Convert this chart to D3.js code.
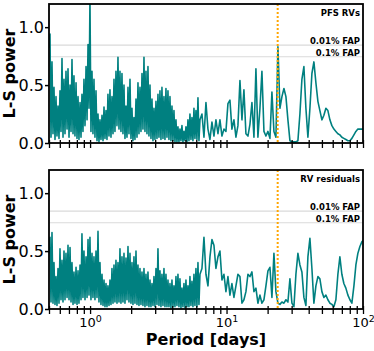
<!DOCTYPE html>
<html><head><meta charset="utf-8">
<script src="https://cdn.jsdelivr.net/npm/d3@7"></script>
<style>body{margin:0;background:#fff}svg{display:block}text{font-family:"DejaVu Sans",sans-serif}</style>
</head><body><svg id="c" width="374" height="351"></svg>
<script>
// Shared period grid [days]
const periods = [
0.500,0.5085,0.5171,0.5259,0.5349,0.544,0.5533,0.5627,0.5722,0.582,
0.5919,0.6019,0.6122,0.6226,0.6332,0.644,0.655,0.666,0.678,0.689,
0.701,0.713,0.725,0.737,0.750,0.762,0.775,0.789,0.802,0.816,
0.829,0.844,0.858,0.872,0.887,0.902,0.918,0.934,0.950,0.966,
0.982,0.998,1.015,1.033,1.050,1.068,1.086,1.105,1.124,1.143,
1.162,1.182,1.202,1.223,1.244,1.265,1.286,1.308,1.330,1.352,
1.376,1.399,1.423,1.447,1.472,1.497,1.522,1.548,1.575,1.601,
1.629,1.656,1.684,1.713,1.742,1.772,1.802,1.833,1.864,1.896,
1.928,1.961,1.994,2.028,2.062,2.097,2.133,2.170,2.207,2.244,
2.282,2.321,2.360,2.401,2.441,2.483,2.525,2.568,2.612,2.656,
2.701,2.748,2.794,2.842,2.890,2.939,2.989,3.040,3.092,3.144,
3.198,3.252,3.307,3.363,3.421,3.479,3.538,3.598,3.660,3.722,
3.785,3.850,3.915,3.982,4.049,4.118,4.188,4.260,4.332,4.406,
4.481,4.557,4.634,4.713,4.793,4.875,4.958,5.042,5.128,5.215,
5.304,5.394,5.486,5.579,5.674,5.771,5.869,5.969,6.070,6.174,
6.279,6.386,
6.605,6.832,7.066,7.308,7.559,7.818,8.086,8.363,8.650,8.947,
9.254,9.571,9.899,10.24,10.59,10.95,11.33,11.72,12.12,12.54,
12.97,13.41,13.87,14.35,14.84,15.35,15.88,16.42,16.98,17.57,
18.17,18.80,19.44,20.11,20.80,21.51,22.25,23.01,23.80,24.62,
25.46,26.34,27.24,28.17,29.14,30.14,31.17,32.24,33.35,34.49,
35.67,36.89,38.16,39.47,40.83,42.23,43.67,45.17,46.72,48.32,
49.98,51.69,53.47,55.30,57.20,59.16,61.19,63.29,65.46,67.7,
70.0,72.4,74.9,77.5,80.2,82.9,85.8,88.7,91.7,94.9,
98.1,100
];
// L-S power of the PFS RVs
const pfsPower = [
0.82,0.94,0.05,0.70,0.08,0.48,0.03,0.40,0.06,0.32,
0.04,0.45,0.10,0.73,0.05,0.55,0.08,0.62,0.12,0.64,
0.05,0.50,0.10,0.72,0.08,0.58,0.06,0.52,0.04,0.40,
0.03,0.35,0.05,0.42,0.10,0.55,0.15,0.66,0.20,0.85,
0.30,1.25,0.10,0.62,0.08,0.55,0.05,0.45,0.02,0.25,
0.01,0.20,0.03,0.24,0.02,0.31,0.04,0.28,0.03,0.42,
0.06,0.46,0.05,0.40,0.08,0.55,0.10,0.62,0.15,0.74,
0.12,0.62,0.10,0.60,0.08,0.50,0.04,0.32,0.05,0.48,
0.08,0.55,0.04,0.30,0.02,0.22,0.03,0.38,0.05,0.52,
0.08,0.48,0.10,0.60,0.12,0.74,0.10,0.62,0.08,0.66,
0.06,0.50,0.04,0.38,0.02,0.30,0.03,0.36,0.04,0.42,
0.05,0.45,0.03,0.48,0.04,0.40,0.03,0.47,0.05,0.45,
0.03,0.40,0.02,0.32,0.02,0.28,0.01,0.20,0.01,0.14,
0.01,0.12,0.02,0.15,0.01,0.10,0.02,0.14,0.01,0.20,
0.02,0.25,0.03,0.22,0.02,0.30,0.04,0.28,0.03,0.39,
0.02,0.20,
0.25,0.05,0.35,0.12,0.03,0.18,0.06,0.20,0.08,0.20,
0.06,0.12,0.10,0.34,0.37,0.12,0.20,0.05,0.15,0.54,
0.20,0.46,0.08,0.06,0.16,0.35,0.05,0.64,0.05,0.30,
0.62,0.10,0.06,0.10,0.04,0.44,0.10,0.05,0.83,0.30,
0.40,0.47,0.40,0.20,0.02,0.01,0.01,0.01,0.02,0.25,
0.55,0.66,0.30,0.05,0.30,0.60,0.70,0.52,0.36,0.28,
0.20,0.24,0.30,0.28,0.20,0.15,0.12,0.10,0.08,0.07,
0.05,0.04,0.03,0.02,0.02,0.04,0.07,0.10,0.12,0.12,
0.12,0.12
];
// L-S power of the RV residuals
const residPower = [
0.48,0.62,0.06,0.66,0.05,0.40,0.04,0.28,0.03,0.35,
0.05,0.52,0.08,0.42,0.06,0.50,0.08,0.48,0.10,0.55,
0.08,0.53,0.06,0.40,0.04,0.32,0.05,0.36,0.04,0.33,
0.05,0.38,0.08,0.65,0.10,0.50,0.08,0.45,0.10,0.60,
0.12,0.62,0.08,0.48,0.10,0.45,0.08,0.50,0.10,0.67,
0.06,0.40,0.04,0.30,0.03,0.25,0.02,0.22,0.02,0.20,
0.03,0.25,0.04,0.35,0.05,0.38,0.06,0.42,0.05,0.40,
0.06,0.52,0.05,0.45,0.06,0.48,0.05,0.44,0.08,0.54,
0.06,0.48,0.05,0.40,0.04,0.45,0.05,0.50,0.04,0.38,
0.03,0.35,0.04,0.32,0.03,0.35,0.02,0.30,0.03,0.32,
0.02,0.25,0.02,0.22,0.03,0.28,0.02,0.35,0.04,0.52,
0.03,0.33,0.02,0.30,0.03,0.35,0.02,0.30,0.02,0.25,
0.02,0.22,0.01,0.25,0.02,0.20,0.02,0.28,0.03,0.30,
0.02,0.26,0.01,0.18,0.02,0.22,0.01,0.25,0.02,0.20,
0.02,0.28,0.03,0.24,0.02,0.30,0.03,0.35,0.02,0.40,
0.04,0.30,
0.35,0.62,0.30,0.20,0.45,0.60,0.55,0.35,0.45,0.50,
0.25,0.30,0.15,0.28,0.12,0.22,0.10,0.20,0.30,0.28,
0.05,0.08,0.15,0.30,0.28,0.32,0.15,0.18,0.05,0.12,
0.05,0.08,0.20,0.33,0.36,0.10,0.48,0.15,0.05,0.04,
0.06,0.05,0.08,0.06,0.26,0.05,0.02,0.30,0.48,0.38,
0.32,0.10,0.03,0.45,0.61,0.35,0.05,0.20,0.28,0.26,
0.15,0.10,0.12,0.08,0.05,0.04,0.02,0.08,0.30,0.45,
0.30,0.22,0.18,0.12,0.08,0.05,0.20,0.38,0.48,0.54,
0.58,0.59
];
const panelTitles = ["PFS RVs", "RV residuals"];
const fapLevels = [0.845, 0.745];
const fapLabels = ["0.01% FAP", "0.1% FAP"];
const yTicks = [0.0, 0.5, 1.0];
const xMajorTicks = [1, 10, 100];
const xMinorTicks = [0.5,0.6,0.7,0.8,0.9,2,3,4,5,6,7,8,9,20,30,40,50,60,70,80,90];
const markedPeriod = 23.7;
const xDomain = [0.5, 100];
const yDomain = [0, 1.2];
const yLabel = "L-S power";
const xLabel = "Period [days]";

const svg = d3.select("#c");
const L = 49, R = 363;
const x = d3.scaleLog().domain(xDomain).range([L, R]);
const TEAL = "#008080";

const panels = [
  {top: 4, bottom: 143, power: pfsPower, title: panelTitles[0], labels: false},
  {top: 170, bottom: 309, power: residPower, title: panelTitles[1], labels: true}
];

panels.forEach((p, k) => {
  const y = d3.scaleLinear().domain(yDomain).range([p.bottom, p.top]);
  const g = svg.append("g");
  const cid = "clip" + k;
  svg.append("clipPath").attr("id", cid).append("rect")
    .attr("x", L).attr("y", p.top).attr("width", R - L).attr("height", p.bottom - p.top);

  g.selectAll(".fap").data(fapLevels).enter().append("line")
    .attr("x1", L).attr("x2", R).attr("y1", d => y(d)).attr("y2", d => y(d))
    .attr("stroke", "#dadada").attr("stroke-width", 1.1);

  const line = d3.line().x((d, i) => x(periods[i])).y(d => y(d));
  g.append("path").datum(p.power).attr("d", line)
    .attr("clip-path", `url(#${cid})`)
    .attr("fill", "none").attr("stroke", TEAL).attr("stroke-width", 1.6)
    .attr("stroke-linejoin", "round");

  g.append("line").attr("x1", x(markedPeriod)).attr("x2", x(markedPeriod))
    .attr("y1", p.top).attr("y2", p.bottom)
    .attr("stroke", "#ffa500").attr("stroke-width", 2).attr("stroke-dasharray", "2,2");

  const ya = g.append("g").attr("transform", `translate(${L},0)`)
    .call(d3.axisLeft(y).tickValues(yTicks).tickFormat(d3.format(".1f")).tickSize(4).tickPadding(1));
  ya.select(".domain").remove();
  ya.selectAll("line").attr("stroke-width", 1.5);
  ya.selectAll("text").attr("font-size", 16).attr("font-family", "DejaVu Sans").attr("fill", "#000");

  const xm = g.append("g").attr("transform", `translate(0,${p.bottom})`)
    .call(d3.axisBottom(x).tickValues(xMinorTicks).tickFormat("").tickSize(5));
  xm.select(".domain").remove();
  xm.selectAll("line").attr("stroke-width", 1.3).attr("y1", -3);
  const xa = g.append("g").attr("transform", `translate(0,${p.bottom})`)
    .call(d3.axisBottom(x).tickValues(xMajorTicks).tickFormat("").tickSize(5));
  xa.select(".domain").remove();
  xa.selectAll("line").attr("stroke-width", 1.3).attr("y1", -3);
  if (p.labels) {
    xa.selectAll(".tick").each(function(d) {
      const t = d3.select(this).append("text").attr("y", 18).attr("fill", "#000")
        .attr("font-size", 13).attr("text-anchor", "middle").attr("font-family", "DejaVu Sans");
      t.append("tspan").text("10");
      t.append("tspan").attr("dy", -5).attr("font-size", 9.5).text(Math.round(Math.log10(d)));
    });
  }

  g.append("rect").attr("x", L).attr("y", p.top).attr("width", R - L).attr("height", p.bottom - p.top)
    .attr("fill", "none").attr("stroke", "#000").attr("stroke-width", 1.8);

  g.append("text").attr("x", R - 3).attr("y", p.top + 12).attr("text-anchor", "end")
    .attr("font-size", 8.5).attr("font-weight", "bold").text(p.title);
  fapLevels.forEach((f, j) => {
    g.append("text").attr("x", R - 3).attr("y", y(f) - 1).attr("text-anchor", "end")
      .attr("font-size", 8.5).attr("font-weight", "bold").text(fapLabels[j]);
  });

  g.append("text").attr("transform", `translate(15,${(p.top + p.bottom) / 2}) rotate(-90)`)
    .attr("text-anchor", "middle").attr("font-size", 16).attr("font-weight", "bold").text(yLabel);
});

svg.append("text").attr("x", (L + R) / 2).attr("y", 345).attr("text-anchor", "middle")
  .attr("font-size", 16).attr("font-weight", "bold").text(xLabel);
</script></body></html>
